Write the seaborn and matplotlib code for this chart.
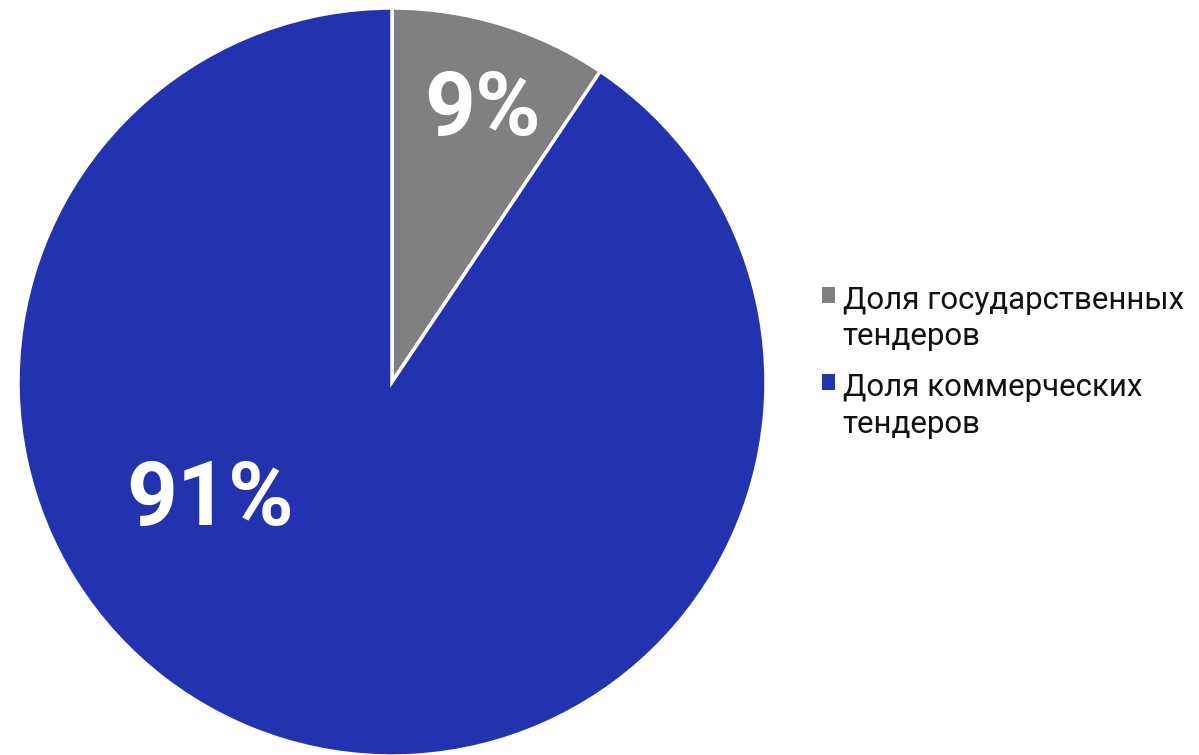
import matplotlib
matplotlib.use("Agg")
import matplotlib.pyplot as plt
import seaborn as sns
from matplotlib.patches import Patch, Rectangle
from matplotlib.legend_handler import HandlerPatch

categories = ["Доля государственных\nтендеров", "Доля коммерческих\nтендеров"]
values = [9.4, 90.6]
colors = ["#808080", "#2333AF"]
label_pos = [(0.243, 0.727), (-0.487, -0.316)]

sns.set_theme(style="white")
plt.rcParams["font.family"] = ["Roboto", "DejaVu Sans"]

fig = plt.figure(figsize=(11.99, 7.55), dpi=100)
cx, cy, r = 392, 382, 374
W, H = 1199, 755
ax = fig.add_axes([(cx - r) / W, (H - cy - r) / H, 2 * r / W, 2 * r / H])
pal = sns.color_palette(colors)
wedges, _ = ax.pie(values, colors=pal, startangle=90, counterclock=False,
                   radius=1, wedgeprops=dict(edgecolor="white", linewidth=2.5))
ax.set_xlim(-1, 1)
ax.set_ylim(-1, 1)
ax.set_aspect("equal")
ax.axis("off")

for v, (x, y) in zip(values, label_pos):
    ax.text(x, y, f"{round(v)}%", ha="center", va="center", color="white",
            fontsize=64, fontweight="bold")


def top_square(legend, orig_handle, xdescent, ydescent, width, height, fontsize):
    return Rectangle((-xdescent, -ydescent + fontsize * 0.78), width, height)


handles = [Patch(facecolor=c, edgecolor="none") for c in pal]
leg = fig.legend(handles, categories, loc="center left", bbox_to_anchor=(0.662, 0.52),
                 frameon=False, fontsize=22.5, handlelength=0.42, handleheight=0.42,
                 handletextpad=0.25, labelspacing=0.7, labelcolor="#111111",
                 handler_map={Patch: HandlerPatch(patch_func=top_square)})
for t in leg.get_texts():
    t.set_linespacing(1.32)

fig.savefig("out.png", dpi=100)
